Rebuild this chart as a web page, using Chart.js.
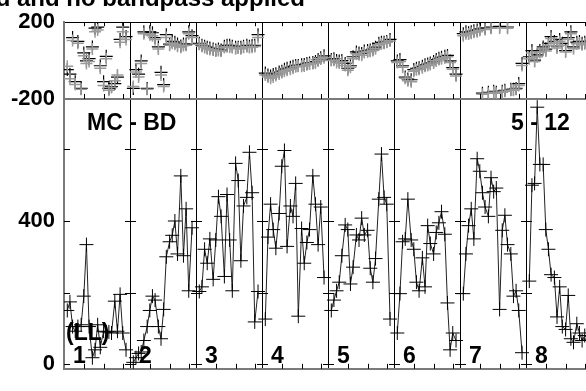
<!DOCTYPE html>
<html>
<head>
<meta charset="utf-8">
<script src="https://cdn.jsdelivr.net/npm/chart.js@4.4.1/dist/chart.umd.min.js"></script>
<style>
  html, body { margin: 0; padding: 0; background: #fff; overflow: hidden; }
  #wrap { width: 600px; height: 391px; }
</style>
</head>
<body>
<div id="wrap"><canvas id="visChart" width="600" height="391"></canvas></div>
<script>
// --- DATA ---
// sample times, as a fraction of each baseline panel
const times = [0.05, 0.09, 0.13, 0.17, 0.21, 0.26, 0.30, 0.34, 0.38, 0.43, 0.47,
               0.51, 0.55, 0.60, 0.64, 0.68, 0.72, 0.77, 0.81, 0.85, 0.89, 0.94];
const panelNames = ['1', '2', '3', '4', '5', '6', '7', '8'];

// amplitude, one array per baseline
const amp1 = [150, 174, 105, 92, 105, 110, 190, 334, 105, 18, 40, 110, 47, 92, 90, 90, 87, 176, 92, 195, 87, 40];
const amp2 = [5, 18, 30, 34, 66, 105, 150, 190, 179, 105, 71, 153, 300, 342, 360, 400, 308, 526, 303, 434, 205, 381];
const amp3 = [203, 216, 321, 282, 350, 237, 347, 468, 413, 245, 474, 347, 205, 561, 513, 289, 442, 466, 592, 479, 118, 203];
const amp4 = [126, 355, 447, 376, 324, 421, 553, 597, 329, 442, 413, 505, 134, 379, 282, 340, 376, 526, 447, 334, 439, 242];
const amp5 = [150, 179, 205, 229, 303, 389, 376, 224, 271, 361, 347, 408, 361, 374, 268, 229, 295, 461, 587, 466, 447, 126];
const amp6 = [87, 197, 342, 350, 461, 347, 321, 229, 205, 297, 216, 387, 337, 308, 368, 395, 426, 363, 171, 40, 87, 66];
const amp7 = [197, 308, 387, 434, 350, 574, 539, 479, 439, 413, 521, 482, 492, 153, 374, 416, 334, 308, 190, 205, 150, 32];
const amp8 = [232, 500, 505, 718, 558, 558, 376, 321, 250, 242, 132, 216, 105, 97, 192, 71, 61, 113, 87, 66, 80, 70];

// phase (deg), black and grey points
const ph1 = [-47, -71, 120, -110, 100, -145, 40, -2, 10, 71, 169, 174, -27, -110, 22, -145, -135, -120, -86, 110, 174, 125];
const ph2 = [-145, -47, -71, -2, 150, -145, 150, 145, 120, 71, -61, -125, 135, 86, 100, 96, 86, 76, 86, 86, 150, 130];
const ph3 = [90, 80, 75, 70, 65, 60, 55, 60, 55, 75, 80, 80, 75, 70, 70, 70, 75, 80, 75, 78, 80, 135];
const ph4 = [-65, -75, -80, -72, -68, -60, -55, -45, -40, -35, -30, -25, -25, -22, -20, -15, -12, -10, -5, 5, 15, 25];
const ph5 = [5, 10, 0, -2, 0, -15, -40, -27, 20, 45, 40, 37, 50, 52, 55, 60, 70, 90, 95, 96, 100, 110];
const ph6 = [-2, 5, -27, -86, -96, -100, -47, -40, -37, -30, -22, -18, -12, -5, 5, 12, 18, 22, 27, -2, -37, -71];
const ph7 = [140, 150, 145, 150, 155, 160, 165, -170, 170, -165, 175, -160, -165, 178, -160, -155, 175, -150, -150, -145, -120, -15];
const ph8 = [20, 52, 2, 30, 52, 71, 60, 90, 125, 100, 76, 110, 90, 52, 120, 150, 71, 96, 100, 90, 95, 100];

const phGrey1 = [-30, -95, 105, -125, 90, -150, 25, -15, -5, 60, 150, 160, -40, -130, 10, -155, -140, -105, -75, 95, 150, 110];
const phGrey2 = [-135, -60, -85, -15, 140, -150, 135, 130, 110, 60, -75, -135, 120, 80, 90, 85, 75, 70, 78, 80, 140, 120];
const phGrey3 = [85, 75, 68, 62, 58, 55, 50, 52, 50, 68, 72, 70, 68, 62, 65, 62, 70, 72, 68, 70, 74, 120];
const phGrey4 = [-75, -85, -92, -85, -78, -70, -62, -55, -50, -45, -40, -32, -30, -30, -28, -22, -18, -15, -12, -2, 8, 15];
const phGrey5 = [0, 2, -10, -12, -8, -25, -50, -35, 10, 35, 30, 28, 42, 45, 48, 52, 62, 82, 88, 90, 95, 102];
const phGrey6 = [-10, -5, -35, -92, -105, -110, -55, -48, -45, -38, -30, -25, -20, -12, -2, 5, 10, 15, 20, -10, -45, -80];
const phGrey7 = [130, 140, 138, 142, 148, 150, 158, -175, 162, -170, 168, -165, -170, 170, -165, -160, 168, -155, -155, -150, -130, -25];
const phGrey8 = [10, 40, -5, 20, 42, 60, 50, 80, 115, 90, 65, 100, 80, 45, 110, 140, 62, 88, 92, 82, 88, 92];

const ampTicks = [0, 200, 400, 600];
const ampLabels = ['0', '', '400', ''];
const phaseTicks = [-200, 0, 200];
const phaseLabels = ['-200', '', '200'];
const xTickFracs = [0.3, 0.6, 0.9];

const ampSets = [amp1, amp2, amp3, amp4, amp5, amp6, amp7, amp8];
const phSets = [ph1, ph2, ph3, ph4, ph5, ph6, ph7, ph8];
const phGreySets = [phGrey1, phGrey2, phGrey3, phGrey4, phGrey5, phGrey6, phGrey7, phGrey8];

const FONT = "'Liberation Sans', Arial, sans-serif";

function toPoints(p, values) {
    return values.map((v, i) => ({ x: p + times[i], y: v }));
}

const datasets = [];
panelNames.forEach((name, p) => {
    datasets.push({
        data: toPoints(p, phGreySets[p]), yAxisID: 'yp', showLine: false,
        pointStyle: 'cross', pointRadius: 6, pointBorderWidth: 1.5,
        pointBorderColor: '#9a9a9a', borderColor: '#9a9a9a'
    });
    datasets.push({
        data: toPoints(p, phSets[p]), yAxisID: 'yp', showLine: false,
        pointStyle: 'cross', pointRadius: 6.5, pointBorderWidth: 1.2,
        pointBorderColor: '#000', borderColor: '#000'
    });
    datasets.push({
        data: toPoints(p, ampSets[p]), yAxisID: 'ya', showLine: true,
        borderColor: '#222', borderWidth: 1, tension: 0,
        pointStyle: 'cross', pointRadius: 7, pointBorderWidth: 1,
        pointBorderColor: '#000'
    });
});

// --- extra ticks and labels ---
const decorPlugin = {
    id: 'decor',
    afterDatasetsDraw(chart) {
        const ctx = chart.ctx;
        const xs = chart.scales.x, ya = chart.scales.ya, yp = chart.scales.yp;
        const area = chart.chartArea;
        ctx.save();
        ctx.strokeStyle = '#000';
        ctx.lineWidth = 1;
        ctx.beginPath();
        for (let p = 0; p < panelNames.length; p++) {
            xTickFracs.forEach(f => {
                const x = Math.round(xs.getPixelForValue(p + f)) + 0.5;
                ctx.moveTo(x, area.bottom); ctx.lineTo(x, area.bottom - 5);
                ctx.moveTo(x, yp.bottom); ctx.lineTo(x, yp.bottom - 5);
                ctx.moveTo(x, area.top); ctx.lineTo(x, area.top + 4);
            });
        }
        for (let p = 0; p <= panelNames.length; p++) {
            const x = Math.round(xs.getPixelForValue(p));
            ampTicks.forEach(v => {
                const y = Math.round(ya.getPixelForValue(v)) + 0.5;
                ctx.moveTo(p === 0 ? x : x - 5, y); ctx.lineTo(x + 6, y);
            });
        }
        ctx.stroke();

        ctx.fillStyle = '#000';
        ctx.font = 'bold 23px ' + FONT;
        ctx.textBaseline = 'middle';
        ctx.textAlign = 'left';
        panelNames.forEach((name, p) => {
            ctx.fillText(name, xs.getPixelForValue(p) + 9, 357);
        });
        ctx.fillText('(LL)', xs.getPixelForValue(0) + 2, 334);
        ctx.fillText('MC - BD', xs.getPixelForValue(0) + 23, 124);
        ctx.fillText('5 - 12', xs.getPixelForValue(6) + 51, 124);

        ctx.font = 'bold 24px ' + FONT;
        ctx.textAlign = 'right';
        ctx.textBaseline = 'alphabetic';
        ctx.fillText('Uncalibrated and no bandpass applied', 305, 6);
        ctx.restore();
    }
};

new Chart(document.getElementById('visChart').getContext('2d'), {
    type: 'scatter',
    data: { datasets: datasets },
    options: {
        responsive: false,
        animation: false,
        events: [],
        layout: { padding: { left: 0, right: 5, top: 17, bottom: 6 } },
        plugins: { legend: { display: false }, tooltip: { enabled: false } },
        scales: {
            x: {
                type: 'linear', min: 0, max: 8,
                afterBuildTicks: s => { s.ticks = [0, 1, 2, 3, 4, 5, 6, 7, 8].map(v => ({ value: v })); },
                afterFit: s => { s.height = 0; },
                ticks: { display: false },
                grid: {
                    drawTicks: false,
                    color: c => (c.tick && c.tick.value === 0) ? 'rgba(0,0,0,0)' : '#000',
                    lineWidth: 1
                },
                border: { display: true, color: '#7a7a7a', width: 2 }
            },
            ya: {
                type: 'linear', position: 'left', stack: 'v', stackWeight: 286.5,
                min: -13, max: 741,
                afterBuildTicks: s => { s.ticks = ampTicks.map(v => ({ value: v })); },
                afterFit: s => { s.width = 64; },
                ticks: {
                    padding: 9, color: '#000',
                    font: { size: 22, weight: 'bold', family: FONT },
                    callback: (v) => ampLabels[ampTicks.indexOf(v)]
                },
                grid: { display: false, drawTicks: false },
                border: { display: true, color: '#7a7a7a', width: 2 }
            },
            yp: {
                type: 'linear', position: 'left', stack: 'v', stackWeight: 81.5,
                min: -200, max: 200,
                afterBuildTicks: s => { s.ticks = phaseTicks.map(v => ({ value: v })); },
                afterFit: s => { s.width = 64; },
                ticks: {
                    padding: 9, color: '#000',
                    font: { size: 22, weight: 'bold', family: FONT },
                    callback: (v) => phaseLabels[phaseTicks.indexOf(v)]
                },
                grid: {
                    drawTicks: false,
                    color: c => (c.tick && c.tick.value === -200) ? '#7a7a7a' : '#000',
                    lineWidth: c => (c.tick && c.tick.value === -200) ? 2 : 1
                },
                border: { display: true, color: '#7a7a7a', width: 2 }
            }
        }
    },
    plugins: [decorPlugin]
});
</script>
</body>
</html>
